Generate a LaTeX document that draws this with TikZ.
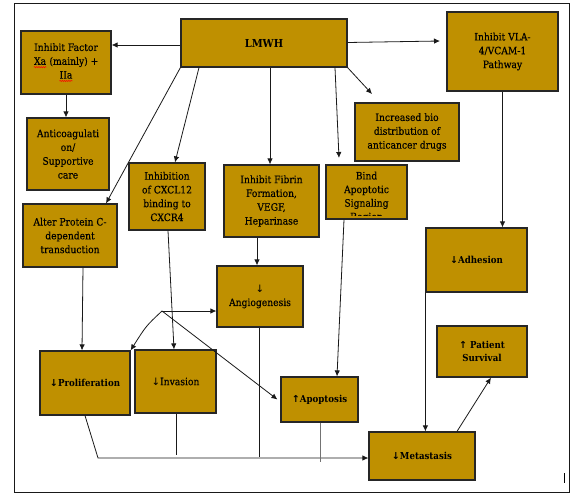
\documentclass[tikz,border=0pt]{standalone}
\usepackage{fontspec}
\setmainfont{DejaVu Serif Condensed}
\newfontfamily\heavy{DejaVu Serif Condensed}[FakeBold=0.25]
\newfontfamily\arrfont{DejaVu Sans}
\usetikzlibrary{arrows.meta,decorations.pathmorphing}
\newcommand\redwave[1]{\tikz[baseline=(rw.base)]{\node[inner sep=0pt,draw=none,fill=none,minimum width=0pt,minimum height=0pt](rw){#1};
  \draw[red, line width=0.5pt, decorate, decoration={snake,amplitude=0.6pt,segment length=2.2pt}] ([yshift=-2.4pt]rw.base west) -- ([yshift=-2.4pt]rw.base east);}}
\newcommand\dn{{\arrfont\char"2193}}
\newcommand\up{{\arrfont\char"2191}}
\definecolor{gold}{RGB}{191,144,0}
\tikzset{
  box/.style={draw=black!85, line width=1.2pt, fill=gold, inner sep=1pt, align=center,
    font=\heavy\fontsize{10.2}{13.8}\selectfont},
  boldbox/.style={box, font=\bfseries\fontsize{9.6}{13.2}\selectfont},
  conn/.style={draw=black!90, line width=0.8pt},
  arr/.style={conn, -{Latex[length=6pt,width=5.5pt]}},
}
\begin{document}
\begin{tikzpicture}[x=1pt,y=-1pt]
\useasboundingbox (0,0) rectangle (581,498);
\draw[black!90, line width=1pt] (14,3) rectangle (569,492);
\draw[black, line width=0.8pt] (564,473) -- (564,483);

% boxes
\node[box, minimum width=166, minimum height=48, font=\bfseries\fontsize{11}{13}\selectfont] (lmwh) at (264,43) {LMWH};
\node[box, minimum width=90, minimum height=63] (fxa) at (66,62.5) {Inhibit Factor\\\redwave{Xa} (mainly) +\\\redwave{IIa}};
\node[box, minimum width=82, minimum height=72] (anti) at (68,154) {Anticoagulati\\on/\\Supportive\\care};
\node[box, minimum width=111, minimum height=79] (vla) at (502.5,51.5) {Inhibit VLA-\\4/VCAM-1\\Pathway};
\node[box, minimum width=104, minimum height=58] (bio) at (407,132) {Increased bio\\distribution of\\anticancer drugs};
\node[box, minimum width=76, minimum height=67] (cxcl) at (167,196.5) {Inhibition\\of CXCL12\\binding to\\CXCR4};
\node[box, minimum width=95, minimum height=72] (fib) at (271.5,201) {Inhibit Fibrin\\Formation,\\VEGF,\\Heparinase};
\node[box, minimum width=81, minimum height=54] (bind) at (366.5,192) {};
\begin{scope}
  \clip (326,165) rectangle (407,215.5);
  \node[align=center, inner sep=0pt, anchor=north, font=\heavy\fontsize{10.2}{13.6}\selectfont] (bindtxt) at (366.5,171.5) {Bind\\Apoptotic\\Signaling\\Region};
\end{scope}
\node[box, minimum width=94, minimum height=63] (alter) at (70,235.5) {Alter Protein C-\\dependent\\transduction};
\node[box, minimum width=86, minimum height=61] (angio) at (260,296.5) {\dn\\Angiogenesis};
\node[boldbox, minimum width=101, minimum height=64] (adh) at (476.5,260) {\dn Adhesion};
\node[boldbox, minimum width=90, minimum height=64] (prol) at (85,383) {\dn Proliferation};
\node[box, minimum width=81, minimum height=63] (inv) at (175.5,381.5) {\dn Invasion};
\node[boldbox, minimum width=77, minimum height=45] (apop) at (319.5,399.5) {\up Apoptosis};
\node[boldbox, minimum width=90, minimum height=51] (surv) at (482,351.5) {\up{} Patient\\Survival};
\node[boldbox, minimum width=106, minimum height=48] (meta) at (422,456) {\dn Metastasis};

% free ends
\coordinate (e2) at (440,41);
\coordinate (e3) at (372,94);
\coordinate (e4) at (339,158);
\coordinate (br) at (162,311);
\coordinate (bl) at (98,458);
\coordinate (invend) at (176,455);
\coordinate (angend) at (259,457);
\coordinate (apend) at (320,462);

% connectors from LMWH
\draw[arr] ([yshift=-2pt]lmwh.west) -- ([yshift=-2pt]lmwh.west -| fxa.east);
\draw[arr] ([yshift=0.5pt]lmwh.east) -- (e2);
\draw[arr] (lmwh.south east) -- (e3);
\draw[arr] ([xshift=71pt]lmwh.south) -- (e4);
\draw[arr] ([xshift=6pt]lmwh.south) -- ([xshift=-1.5pt]fib.north);
\draw[arr] ([xshift=-65pt]lmwh.south) -- ([xshift=8pt]cxcl.north);
\draw[arr] (lmwh.south west) -- ([xshift=36pt]alter.north);

\draw[arr] (fxa.south) -- (fxa.south |- anti.north);
\draw[arr] (vla.south) -- (vla.south |- adh.north);
\draw[arr] ([xshift=-14.5pt]fib.south) -- ([xshift=-3pt]angio.north);
\draw[arr] ([xshift=13pt]alter.south) -- ([xshift=-3pt]prol.north);
\draw[arr] ([xshift=1pt]cxcl.south) -- ([xshift=-1.5pt]inv.north);
\draw[arr] ([xshift=-22.5pt]bind.south) -- ([xshift=17.5pt]apop.north);
\draw[arr] (adh.south west) -- (adh.south west |- meta.north);
\draw[arr] ([xshift=35pt]meta.north) -- ([xshift=9pt]surv.south);

% branching lines
\draw[arr] (br) -- (br -| angio.west);
\draw[arr] (br) .. controls (146,326) .. (prol.north east);
\draw[arr] (br) -- ([xshift=-3pt]apop.west);

% bottom lines
\draw[arr] (prol.south) -- (bl) -- ([yshift=-2pt]meta.west);
\draw[conn] ([xshift=0.5pt]inv.south) -- (invend);
\draw[conn] ([xshift=-1pt]angio.south) -- (angend);
\draw[conn, draw=black!55] ([xshift=0.5pt]apop.south) -- (apend);
\end{tikzpicture}
\end{document}
